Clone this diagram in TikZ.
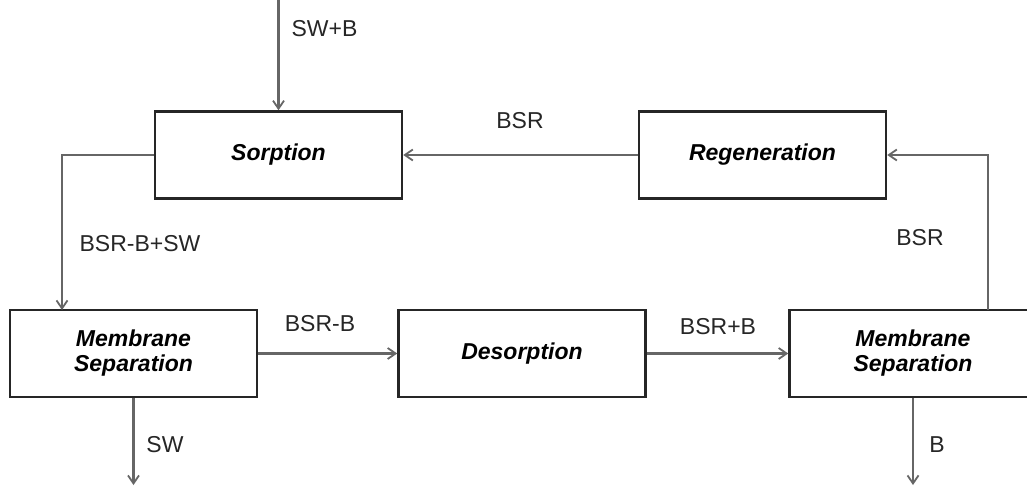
\documentclass[tikz,border=0pt]{standalone}
\usepackage{fontspec}
\setmainfont{Liberation Sans}
\usetikzlibrary{arrows.meta}
\begin{document}
\begin{tikzpicture}[x=1pt,y=-1pt,
  procbox/.style={draw=black!85,line width=2.5pt,minimum width=247pt,minimum height=87pt,inner sep=0pt,align=center,font=\fontsize{23}{25}\selectfont\bfseries\itshape},
  flow/.style={draw=black!60,line width=2.2pt,-{Straight Barb[length=8pt,width=11pt,line width=1.8pt]}},
  lab/.style={font=\fontsize{23}{26}\selectfont,text=black!85}]
\clip (0,0) rectangle (1027,486);
\fill[white] (0,0) rectangle (1027,486);
\node[procbox] (sorp) at (278.5,155) {Sorption};
\node[procbox] (regen) at (762.5,155) {Regeneration};
\node[procbox] (ms1) at (133.5,353.5) {Membrane\\Separation};
\node[procbox] (des) at (522,353.5) {Desorption};
\node[procbox] (ms2) at (913,353.5) {Membrane\\Separation};
\coordinate (in) at (278.5,0);
\coordinate (out1) at (133.5,485);
\coordinate (out2) at (913,485);
\draw[flow] (in) -- (sorp.north);
\node[lab,anchor=west] at (288,29) {SW+B};
\draw[flow] (regen.west) -- (sorp.east);
\node[lab] at (520,121) {BSR};
\draw[flow] (sorp.west) -| (62,310);
\node[lab] at (140,244) {BSR-B+SW};
\draw[flow] (ms1.east) -- (des.west);
\node[lab] at (320,324) {BSR-B};
\draw[flow] (des.east) -- (ms2.west);
\node[lab] at (718,327) {BSR+B};
\draw[flow] (988,310) |- (regen.east);
\node[lab] at (920,238) {BSR};
\draw[flow] (ms1.south) -- (out1);
\node[lab] at (165,445) {SW};
\draw[flow] (ms2.south) -- (out2);
\node[lab] at (937,445) {B};
\end{tikzpicture}
\end{document}
